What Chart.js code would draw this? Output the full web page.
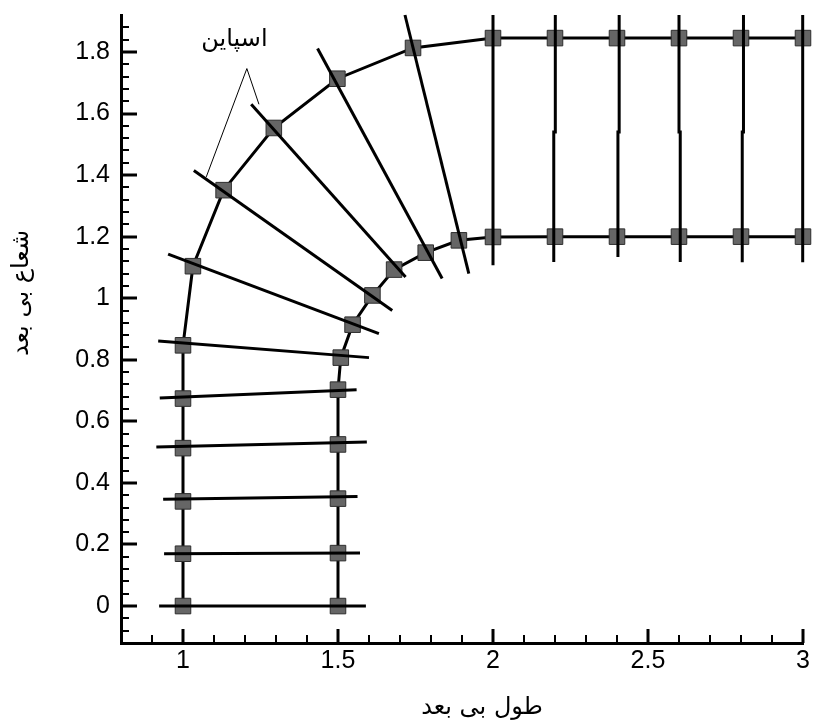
<!DOCTYPE html>
<html>
<head>
<meta charset="utf-8">
<script src="https://cdn.jsdelivr.net/npm/chart.js@4.4.0/dist/chart.umd.min.js"></script>
<style>
html, body { margin: 0; padding: 0; background: #fff; }
</style>
</head>
<body>
<canvas id="mesh" width="815" height="725"></canvas>
<script>
// nodes on the outer wall
var outerX = [1, 1, 1, 1, 1, 1, 1.032, 1.131, 1.293, 1.498, 1.742, 2.0, 2.2, 2.4, 2.6, 2.8, 3.0];
var outerY = [0, 0.170, 0.340, 0.513, 0.674, 0.847, 1.104, 1.351, 1.553, 1.713, 1.813, 1.845, 1.845, 1.845, 1.845, 1.845, 1.845];
// nodes on the inner wall
var innerX = [1.5, 1.5, 1.5, 1.5, 1.5, 1.509, 1.547, 1.611, 1.681, 1.783, 1.890, 2.0, 2.2, 2.4, 2.6, 2.8, 3.0];
var innerY = [0, 0.172, 0.349, 0.525, 0.703, 0.807, 0.914, 1.009, 1.093, 1.148, 1.188, 1.199, 1.2, 1.2, 1.2, 1.2, 1.2];

// spine lines (each one a small polyline)
var spineX = [
  [0.923, 1.590], [0.939, 1.571], [0.936, 1.563], [0.914, 1.593], [0.925, 1.560],
  [0.920, 1.600], [0.952, 1.632], [1.035, 1.675], [1.220, 1.718], [1.434, 1.836],
  [1.716, 1.922], [2.0, 2.0],
  [2.201, 2.201, 2.196, 2.196], [2.407, 2.407, 2.403, 2.403], [2.600, 2.600, 2.604, 2.604],
  [2.808, 2.808, 2.804, 2.804], [2.999, 2.999, 2.999, 2.999]
];
var spineY = [
  [0, 0], [0.170, 0.172], [0.347, 0.356], [0.517, 0.533], [0.676, 0.703],
  [0.861, 0.807], [1.143, 0.885], [1.415, 0.960], [1.630, 1.069], [1.811, 1.064],
  [1.92, 1.080], [1.92, 1.107],
  [1.92, 1.54, 1.54, 1.118], [1.92, 1.54, 1.54, 1.134], [1.92, 1.54, 1.54, 1.118],
  [1.92, 1.54, 1.54, 1.117], [1.92, 1.54, 1.54, 1.117]
];

// label with its two leader lines
var noteText = 'اسپاین';
var notePos = [1.166, 1.838];
var leaderX = [[1.206, 1.075], [1.206, 1.245]];
var leaderY = [[1.746, 1.394], [1.746, 1.630]];

var xTicks = [1, 1.5, 2, 2.5, 3];
var yTicks = [0, 0.2, 0.4, 0.6, 0.8, 1, 1.2, 1.4, 1.6, 1.8];
var xTitle = 'طول بی بعد';
var yTitle = 'شعاع بی بعد';

function pts(xs, ys) {
  return xs.map(function (x, i) { return { x: x, y: ys[i] }; });
}

var datasets = [];
[[outerX, outerY], [innerX, innerY]].forEach(function (w) {
  datasets.push({
    data: pts(w[0], w[1]),
    showLine: true,
    borderColor: '#000',
    borderWidth: 3,
    pointStyle: 'rect',
    pointRadius: 11,
    pointBackgroundColor: '#666666',
    pointBorderColor: '#2e2e2e',
    pointBorderWidth: 1,
    clip: false,
    order: 3
  });
});
spineX.forEach(function (xs, i) {
  datasets.push({
    data: pts(xs, spineY[i]),
    showLine: true,
    borderColor: '#000',
    borderWidth: 3,
    pointRadius: 0,
    clip: false,
    order: 1
  });
});
leaderX.forEach(function (xs, i) {
  datasets.push({
    data: pts(xs, leaderY[i]),
    showLine: true,
    borderColor: '#000',
    borderWidth: 1,
    pointRadius: 0,
    order: 2
  });
});

// inward ticks, the note and the axis titles
var decor = {
  id: 'decor',
  afterDraw: function (chart) {
    var ctx = chart.ctx, xs = chart.scales.x, ys = chart.scales.y, a = chart.chartArea;
    var i, v, p, major;
    ctx.save();
    ctx.strokeStyle = '#000';
    for (i = 1; i <= 22; i++) {
      v = 0.8 + i * 0.1;
      major = Math.abs(v * 2 - Math.round(v * 2)) < 1e-6;
      p = Math.round(xs.getPixelForValue(v));
      ctx.lineWidth = major ? 3 : 2;
      ctx.beginPath();
      ctx.moveTo(p, a.bottom);
      ctx.lineTo(p, a.bottom - (major ? 14 : 8));
      ctx.stroke();
    }
    for (i = -2; i <= 47; i++) {
      v = i * 0.04;
      major = i % 5 === 0;
      p = Math.round(ys.getPixelForValue(v));
      ctx.lineWidth = major ? 3 : 2;
      ctx.beginPath();
      ctx.moveTo(a.left, p);
      ctx.lineTo(a.left + (major ? 16 : 8), p);
      ctx.stroke();
    }

    ctx.fillStyle = '#000';
    ctx.textAlign = 'center';
    ctx.textBaseline = 'middle';
    ctx.font = '24px "DejaVu Sans", sans-serif';
    ctx.fillText(noteText, xs.getPixelForValue(notePos[0]), ys.getPixelForValue(notePos[1]));
    ctx.fillText(xTitle, 482, 708);
    ctx.translate(22, 293);
    ctx.rotate(-Math.PI / 2);
    ctx.fillText(yTitle, 0, 0);
    ctx.restore();
  }
};

function noPad(s) {
  s.paddingTop = 0;
  s.paddingBottom = 0;
  s.paddingLeft = 0;
  s.paddingRight = 0;
}

new Chart(document.getElementById('mesh').getContext('2d'), {
  type: 'scatter',
  data: { datasets: datasets },
  options: {
    responsive: false,
    animation: false,
    devicePixelRatio: 1,
    layout: { padding: { left: 0, right: 10, top: 15, bottom: 0 } },
    plugins: { legend: { display: false }, tooltip: { enabled: false } },
    scales: {
      x: {
        type: 'linear',
        min: 0.8,
        max: 3,
        grid: { display: false, drawTicks: false },
        border: { display: true, color: '#000', width: 3 },
        afterBuildTicks: function (s) { s.ticks = xTicks.map(function (v) { return { value: v }; }); },
        afterFit: function (s) { s.height = 82; noPad(s); },
        ticks: {
          padding: 3,
          color: '#000',
          maxRotation: 0,
          font: { family: 'Arimo, "Liberation Sans", Arial, sans-serif', size: 25 },
          callback: function (v) { return String(v); }
        }
      },
      y: {
        type: 'linear',
        min: -0.12,
        max: 1.92,
        grid: { display: false, drawTicks: false },
        border: { display: true, color: '#000', width: 3 },
        afterBuildTicks: function (s) { s.ticks = yTicks.map(function (v) { return { value: v }; }); },
        afterFit: function (s) { s.width = 121; noPad(s); },
        ticks: {
          padding: 11,
          color: '#000',
          font: { family: 'Arimo, "Liberation Sans", Arial, sans-serif', size: 25 },
          callback: function (v) { return String(v); }
        }
      }
    }
  },
  plugins: [decor]
});
</script>
</body>
</html>
